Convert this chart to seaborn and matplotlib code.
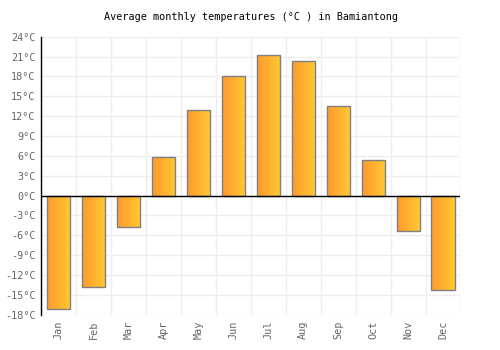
import numpy as np
import pandas as pd
import matplotlib
matplotlib.use("Agg")
import matplotlib.pyplot as plt
import seaborn as sns
from matplotlib.colors import LinearSegmentedColormap

months = ["Jan", "Feb", "Mar", "Apr", "May", "Jun",
          "Jul", "Aug", "Sep", "Oct", "Nov", "Dec"]
temps = [-17.1, -13.8, -4.7, 5.8, 13.0, 18.1,
         21.3, 20.4, 13.6, 5.3, -5.4, -14.2]
yticks = list(range(-18, 25, 3))

df = pd.DataFrame({"month": months, "temp": temps})

sns.set_style("white")
plt.rcParams["font.family"] = ["DejaVu Sans Mono", "DejaVu Sans"]

fig = plt.figure(figsize=(5, 3.5), dpi=100)
ax = fig.add_axes([0.082, 0.101, 0.839, 0.794])

sns.barplot(data=df, x="month", y="temp", ax=ax, width=0.66,
            color="#FFB030", edgecolor="#808080", linewidth=1, zorder=3)

# horizontal gradient fill, orange -> yellow
cmap = LinearSegmentedColormap.from_list("og", ["#FF9A2E", "#FFC933"])
grad = np.linspace(0, 1, 64).reshape(1, -1)
for p in ax.patches:
    x0, y0 = p.get_x(), p.get_y()
    w, h = p.get_width(), p.get_height()
    p.set_facecolor("none")
    im = ax.imshow(grad, cmap=cmap, aspect="auto", zorder=2.5,
                   extent=[x0, x0 + w, min(y0, y0 + h), max(y0, y0 + h)])
    im.set_clip_path(p)

ax.set_xlim(-0.5, 11.5)
ax.set_ylim(-18, 24)
ax.set_yticks(yticks)
ax.set_yticklabels([f"{t}°C" for t in yticks])
ax.set_xticks(range(12))
ax.set_xticklabels(months, rotation=90)

for x in np.arange(-0.5, 12, 1):
    ax.axvline(x, color="#eeeeee", lw=1, zorder=0)
for y in yticks:
    ax.axhline(y, color="#eeeeee", lw=1, zorder=0)
ax.axhline(0, color="black", lw=1, zorder=4)

for s in ["top", "right", "bottom"]:
    ax.spines[s].set_visible(False)
ax.spines["left"].set_color("black")
ax.spines["left"].set_linewidth(1)
ax.spines["left"].set_zorder(5)

ax.tick_params(axis="both", length=0, labelsize=7.3, colors="#666666", pad=4)
ax.set_xlabel("")
ax.set_ylabel("")
ax.set_title("Average monthly temperatures (°C ) in Bamiantong",
             fontsize=7.3, color="black", pad=12)

fig.savefig("out.png", dpi=100)
